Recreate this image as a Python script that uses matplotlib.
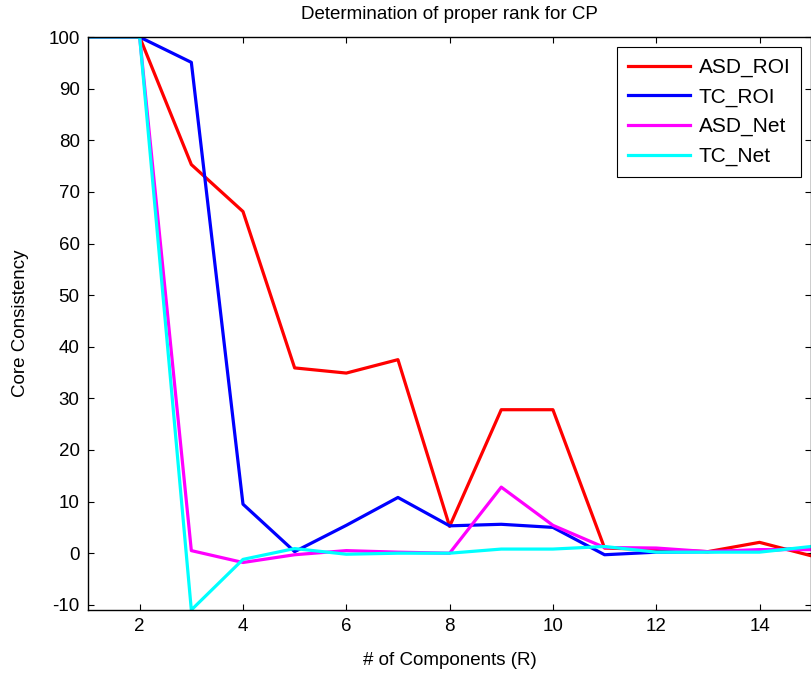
import matplotlib
matplotlib.use('Agg')
import matplotlib.pyplot as plt

plt.rcParams['font.family'] = ['Liberation Sans', 'DejaVu Sans']
plt.rcParams['axes.unicode_minus'] = False

components = list(range(1, 16))

asd_roi = [100, 100, 75.3, 66.2, 35.9, 34.9, 37.5, 5.2, 27.8, 27.8, 1.0, 0.7, 0.3, 2.1, -0.5]
tc_roi = [100, 100, 95.1, 9.5, 0.3, 5.4, 10.8, 5.3, 5.6, 5.0, -0.3, 0.2, 0.3, 0.5, 1.0]
asd_net = [100, 100, 0.5, -1.8, -0.3, 0.5, 0.2, 0.0, 12.8, 5.4, 1.1, 1.0, 0.3, 0.7, 0.7]
tc_net = [100, 100, -11.0, -1.2, 0.9, -0.2, 0.0, 0.0, 0.8, 0.8, 1.3, 0.2, 0.2, 0.2, 1.3]

series = [('ASD_ROI', asd_roi, 'red'),
          ('TC_ROI', tc_roi, 'blue'),
          ('ASD_Net', asd_net, 'magenta'),
          ('TC_Net', tc_net, 'cyan')]

xticks = [2, 4, 6, 8, 10, 12, 14]
yticks = list(range(-10, 101, 10))

fig = plt.figure(figsize=(8.12, 6.74), dpi=100)
ax = fig.add_axes([0.1084, 0.095, 0.8906, 0.850])

for name, vals, col in series:
    ax.plot(components, vals, color=col, linewidth=2.3, label=name)

ax.set_xlim(1, 15)
ax.set_ylim(-11, 100)
ax.set_xticks(xticks)
ax.set_yticks(yticks)
ax.tick_params(direction='in', top=True, right=True, length=4, width=0.8,
               labelsize=13.5, pad=6)
for s in ax.spines.values():
    s.set_linewidth(1.0)

ax.set_xlabel('# of Components (R)', fontsize=13.5, labelpad=12)
ax.set_ylabel('Core Consistency', fontsize=13.5, labelpad=14)
ax.set_title('Determination of proper rank for CP', fontsize=13.5, pad=13)

leg = ax.legend(loc='upper right', fontsize=15, fancybox=False,
                edgecolor='black', framealpha=1, borderaxespad=0.5,
                handlelength=3.0, handletextpad=0.4, labelspacing=0.5,
                borderpad=0.5)
leg.get_frame().set_linewidth(0.8)

fig.savefig('out.png', dpi=100)
